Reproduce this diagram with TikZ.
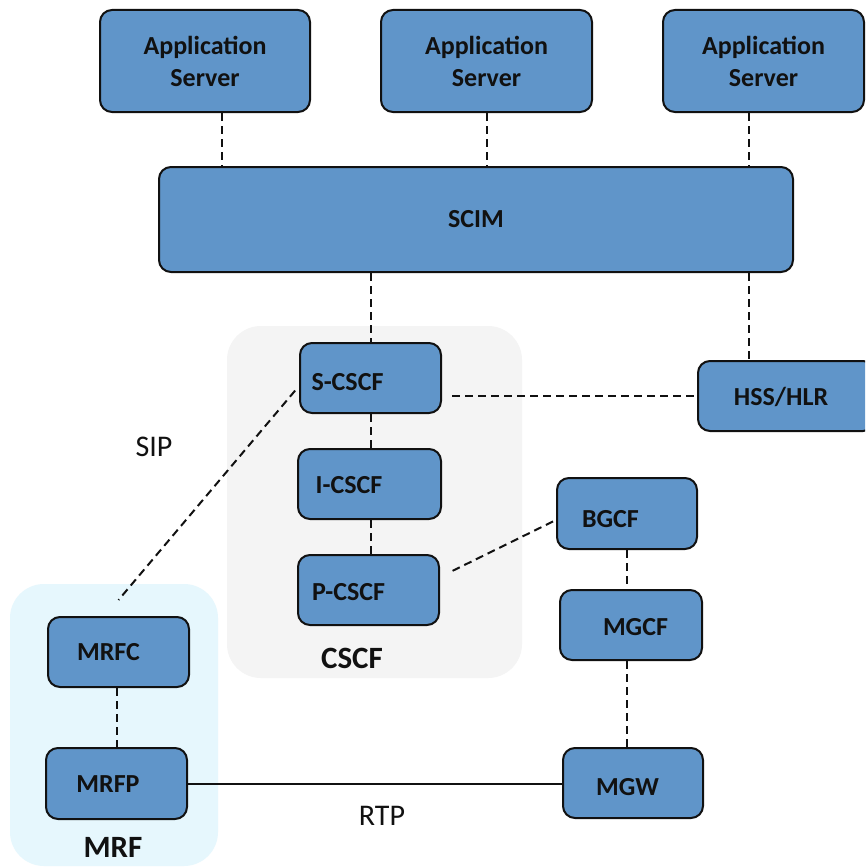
\documentclass[tikz,border=0pt]{standalone}
\usepackage{fontspec}
\setmainfont{Carlito}
\usetikzlibrary{calc}
\definecolor{boxblue}{HTML}{6095C9}
\definecolor{edgecol}{HTML}{111111}
\definecolor{cscfbg}{HTML}{F4F4F4}
\definecolor{mrfbg}{HTML}{E6F7FD}
\tikzset{
  box/.style={draw=edgecol, line width=2pt, fill=boxblue, rounded corners=12pt,
    inner sep=0pt, font=\fontsize{26}{32}\selectfont\bfseries, text=edgecol, align=center},
  lbl/.style={font=\fontsize{26}{32}\selectfont\bfseries, text=edgecol, inner sep=0pt},
  grp/.style={rounded corners=34pt, draw=none},
  grplbl/.style={font=\fontsize{31}{36}\selectfont\bfseries, text=edgecol, inner sep=0pt},
  proto/.style={font=\fontsize{30}{36}\selectfont, text=edgecol, inner sep=0pt},
  dline/.style={draw=edgecol, line width=2pt, dash pattern=on 8pt off 5pt},
  sline/.style={draw=edgecol, line width=2pt}
}
\begin{document}
\begin{tikzpicture}[x=1pt, y=-1pt]
\useasboundingbox (0,0) rectangle (865,867);
\clip (0,0) rectangle (865,867);
\fill[white] (0,0) rectangle (865,867);
% groups
\path[grp, fill=cscfbg] (227,326) rectangle (522,678);
\path[grp, fill=mrfbg] (10,584) rectangle (218,866);
\node[grplbl] (cscflbl) at (352,658) {CSCF};
\node[grplbl] (mrflbl) at (113,847) {MRF};
% boxes
\node[box, minimum width=210pt, minimum height=102pt] (as1) at (205,61) {Application\\Server};
\node[box, minimum width=211pt, minimum height=102pt] (as2) at (486.5,61) {Application\\Server};
\node[box, minimum width=201pt, minimum height=102pt] (as3) at (763.5,61) {Application\\Server};
\node[box, minimum width=634pt, minimum height=105pt] (scim) at (476,219.5) {SCIM};
\node[box, minimum width=141pt, minimum height=70pt,
  label={[lbl, xshift=-23pt, yshift=-4pt]center:S-CSCF}] (scscf) at (370.5,378) {};
\node[box, minimum width=143pt, minimum height=70pt,
  label={[lbl, xshift=-20.5pt, yshift=-1pt]center:I-CSCF}] (icscf) at (369.5,484) {};
\node[box, minimum width=141pt, minimum height=70pt,
  label={[lbl, xshift=-20pt, yshift=-2pt]center:P-CSCF}] (pcscf) at (368.5,590) {};
\node[box, minimum width=177pt, minimum height=70pt,
  label={[lbl, xshift=-5.5pt, yshift=-1pt]center:HSS/HLR}] (hss) at (786.5,396) {};
\node[box, minimum width=140pt, minimum height=71pt,
  label={[lbl, xshift=-16.5pt, yshift=-6pt]center:BGCF}] (bgcf) at (627,513.5) {};
\node[box, minimum width=142pt, minimum height=70pt,
  label={[lbl, xshift=4.5pt, yshift=-2pt]center:MGCF}] (mgcf) at (631,625) {};
\node[box, minimum width=140pt, minimum height=70pt,
  label={[lbl, xshift=-5.5pt, yshift=-4pt]center:MGW}] (mgw) at (633,783) {};
\node[box, minimum width=141pt, minimum height=70pt,
  label={[lbl, xshift=-10pt]center:MRFC}] (mrfc) at (118.5,652) {};
\node[box, minimum width=141pt, minimum height=71pt,
  label={[lbl, xshift=-8.5pt, yshift=-1pt]center:MRFP}] (mrfp) at (116.5,783.5) {};
% protocol labels
\node[proto] (sip) at (154,447) {SIP};
\node[proto] (rtp) at (382,816) {RTP};
% connectors
\draw[dline] (as1.south -| 222,0) -- (scim.north -| 222,0);
\draw[dline] (as2.south -| 487,0) -- (scim.north -| 487,0);
\draw[dline] (as3.south -| 749,0) -- (scim.north -| 749,0);
\draw[dline] (scim.south -| scscf.north) -- (scscf.north);
\draw[dline] (scim.south -| 749,0) -- (hss.north -| 749,0);
\draw[dline, shorten <=10pt] (scscf.east |- hss.west) -- (hss.west);
\draw[dline] (scscf.south) -- (icscf.north -| scscf.south);
\draw[dline] (icscf.south -| scscf.south) -- (pcscf.north -| scscf.south);
\coordinate (sipend) at ($(mrfc.north)+(0,-16)$);
\draw[dline, shorten <=6pt] ([yshift=-8pt]scscf.west) -- (sipend);
\draw[dline, shorten <=14pt] ([yshift=13pt]pcscf.east) -- ([yshift=-6.5pt]bgcf.west);
\draw[dline] (bgcf.south) -- (mgcf.north -| bgcf.south);
\draw[dline] (mgcf.south -| bgcf.south) -- (mgw.north -| bgcf.south);
\draw[dline] (mrfc.south -| 117,0) -- (mrfp.north -| 117,0);
\draw[sline] (mrfp.east) -- (mgw.west |- mrfp.east);
\end{tikzpicture}
\end{document}
